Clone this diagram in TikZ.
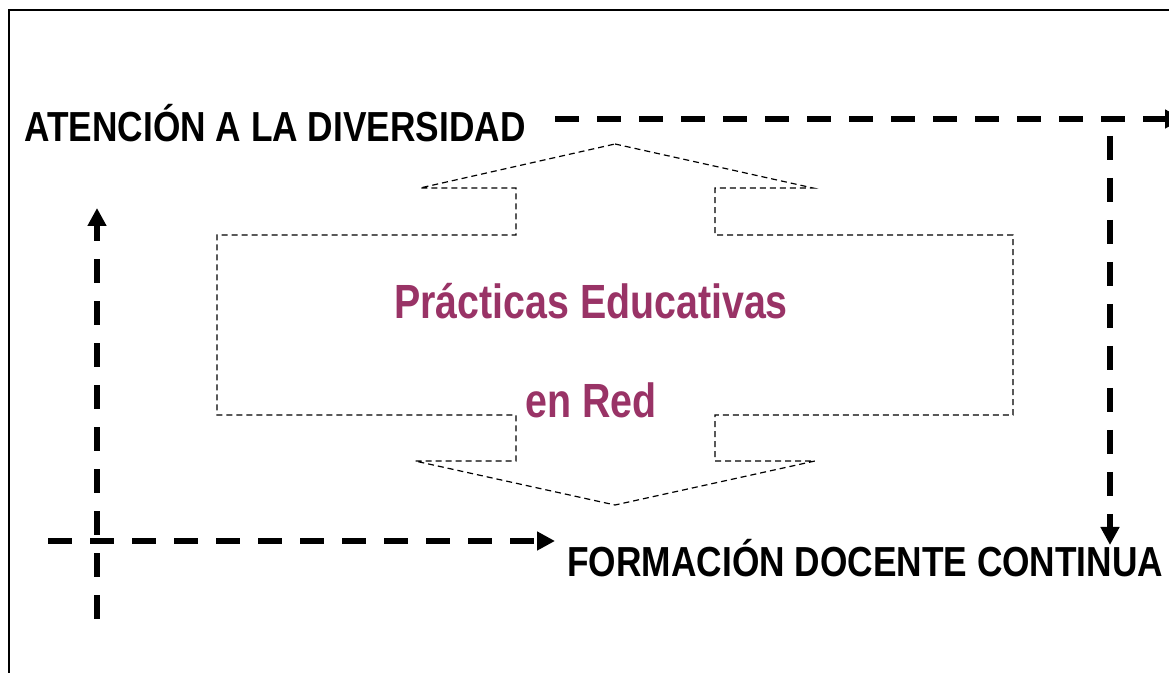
\documentclass[tikz,border=0pt]{standalone}
\usepackage{fontspec}
\usepackage{tikz}
\usetikzlibrary{arrows.meta}
\newfontfamily\narrowfont[FakeStretch=0.82]{Liberation Sans}
\newfontfamily\widerfont[FakeStretch=0.84]{Liberation Sans}
\definecolor{plum}{HTML}{993366}
\tikzset{
	axisline/.style={line width=3pt,dash pattern=on 12pt off 9pt,-{Triangle[length=9pt,width=9pt]}},
	outline/.style={line width=0.6pt,dash pattern=on 3pt off 2pt},
	axislabel/.style={anchor=base west,inner sep=0pt,font=\widerfont\bfseries\fontsize{21}{25}\selectfont},
	titlelabel/.style={anchor=base,inner sep=0pt,text=plum,font=\narrowfont\bfseries\fontsize{24}{28}\selectfont}
}
\begin{document}
\begin{tikzpicture}[x=0.5pt,y=-0.5pt]
	\useasboundingbox (0,0) rectangle (1169,673);
	\clip (0,0) rectangle (1169,673);
	\draw[line width=1pt] (9,700) -- (9,10) -- (1200,10);
	\node[axislabel] (diversidad) at (24,142) {ATENCIÓN A LA DIVERSIDAD};
	\node[axislabel] (formacion) at (567,577) {FORMACIÓN DOCENTE CONTINUA};
	\coordinate (div-start) at (555,119);
	\coordinate (div-end) at (1183,119);
	\coordinate (right-start) at (1110,136);
	\coordinate (right-end) at (1110,545);
	\coordinate (left-start) at (97,619);
	\coordinate (left-end) at (97,208);
	\coordinate (form-start) at (48,541);
	\coordinate (form-end) at (555,541);
	\draw[axisline] (div-start) -- (div-end);
	\draw[axisline] (right-start) -- (right-end);
	\draw[axisline] (left-start) -- (left-end);
	\draw[axisline] (form-start) -- (form-end);
	\draw[outline] (615,144) -- (813,188) -- (715,188) -- (715,235) -- (1013,235) -- (1013,415)
		-- (715,415) -- (715,461) -- (815,461) -- (615,505) -- (415,461) -- (516,461)
		-- (516,415) -- (217,415) -- (217,235) -- (516,235) -- (516,188) -- (420,188) -- cycle;
	\node[titlelabel] (practicas) at (591,319) {Prácticas Educativas};
	\node[titlelabel] (red) at (591,418) {en Red};
\end{tikzpicture}
\end{document}
